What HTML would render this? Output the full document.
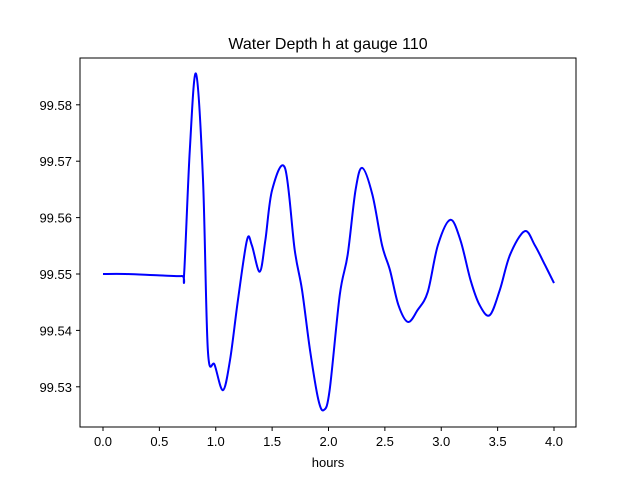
<!DOCTYPE html>
<html><head><meta charset="utf-8"><style>
body{margin:0;background:#fff}
svg{display:block;font-family:"Liberation Sans","DejaVu Sans",sans-serif}
</style></head><body>
<svg id="c" width="640" height="480">
<rect x="0" y="0" width="640" height="480" fill="#fff"/>
<text x="328" y="49" font-size="16" text-anchor="middle">Water Depth h at gauge 110</text>
<g id="ticks"></g>
<path id="line" fill="none" stroke="#0000ff" stroke-width="2"/>
<rect x="80" y="58" width="496" height="369" fill="none" stroke="#000" stroke-width="1"/>
<text x="328" y="467" font-size="13" text-anchor="middle">hours</text>
</svg>
<script>
const hours=[0,0.2,0.5,0.7,0.72,0.77,0.825,0.887,0.93,0.99,1.064,1.127,1.197,1.277,1.32,1.39,1.44,1.5,1.614,1.7,1.765,1.836,1.91,1.96,2.01,2.1,2.17,2.24,2.3,2.39,2.475,2.545,2.62,2.705,2.79,2.88,2.97,3.08,3.17,3.26,3.34,3.43,3.52,3.61,3.74,3.83,3.92,4.0];
const depth=[99.5500,99.5500,99.54975,99.54965,99.5502,99.5720,99.5855,99.5667,99.5365,99.5339,99.5294,99.5348,99.5454,99.5560,99.5551,99.5504,99.5560,99.5649,99.5688,99.5543,99.5472,99.5365,99.5277,99.5259,99.5294,99.5463,99.5534,99.5649,99.5688,99.5640,99.5551,99.5507,99.5445,99.5415,99.5436,99.5468,99.5551,99.5596,99.5560,99.5489,99.5445,99.5427,99.5472,99.5534,99.5576,99.5551,99.5516,99.5484];
const xTicks=[0,0.5,1,1.5,2,2.5,3,3.5,4];
const xTickLabels=["0.0","0.5","1.0","1.5","2.0","2.5","3.0","3.5","4.0"];
const yTicks=[99.53,99.54,99.55,99.56,99.57,99.58];
const yTickLabels=["99.53","99.54","99.55","99.56","99.57","99.58"];
const X=h=>103+h*112.75;
const Y=v=>274-(v-99.55)*5640;
const NS="http://www.w3.org/2000/svg";
const g=document.getElementById('ticks');
function mk(t,a){const e=document.createElementNS(NS,t);for(const k in a)e.setAttribute(k,a[k]);g.appendChild(e);return e;}
xTicks.forEach((t,i)=>{
 const l=mk('line',{x1:X(t),x2:X(t),y1:427,y2:431,stroke:'#000'});
 
 
 const tx=mk('text',{x:X(t),y:446,'font-size':13,'text-anchor':'middle'});
 tx.textContent=xTickLabels[i];
 
 
});
yTicks.forEach((t,i)=>{
 const l=mk('line',{x1:76,x2:80,y1:Y(t),y2:Y(t),stroke:'#000'});
 
 
 const tx=mk('text',{x:72,y:Y(t)+5,'font-size':13,'text-anchor':'end'});
 tx.textContent=yTickLabels[i];
 
 
});
const pts=hours.map((h,i)=>[X(h),Y(depth[i])]);
let d='M'+pts[0][0]+','+pts[0][1];
for(let i=0;i<pts.length-1;i++){
 const p0=pts[Math.max(0,i-1)],p1=pts[i],p2=pts[i+1],p3=pts[Math.min(pts.length-1,i+2)];
 const c1=[p1[0]+(p2[0]-p0[0])/6,p1[1]+(p2[1]-p0[1])/6];
 const c2=[p2[0]-(p3[0]-p1[0])/6,p2[1]-(p3[1]-p1[1])/6];
 d+=' C'+c1[0]+','+c1[1]+' '+c2[0]+','+c2[1]+' '+p2[0]+','+p2[1];
}
document.getElementById('line').setAttribute('d',d);
</script>
</body></html>
